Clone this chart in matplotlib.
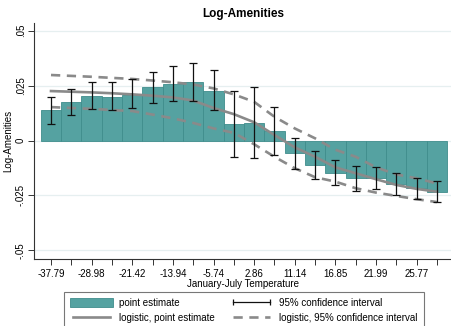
"""
Log-Amenities binned estimates vs January-July temperature,
with logistic fit and 95% confidence intervals.
"""

import matplotlib
matplotlib.use("Agg")
import matplotlib.pyplot as plt
from matplotlib.lines import Line2D
from matplotlib.patches import Patch
import numpy as np


# ---------------------------------------------------------------------------
# Data
# ---------------------------------------------------------------------------

tick_labels = ["-37.79", "-28.98", "-21.42", "-13.94", "-5.74",
               "2.86", "11.14", "16.85", "21.99", "25.77"]

point_est = [0.0137, 0.0176, 0.0203, 0.0200, 0.0207, 0.0242, 0.0258, 0.0266,
             0.0226, 0.0075, 0.0081, 0.0045, -0.0058, -0.0112, -0.0146,
             -0.0172, -0.0172, -0.0197, -0.0217, -0.0232]
ci_low = [0.0077, 0.0116, 0.0143, 0.0137, 0.0149, 0.0169, 0.0181, 0.0178,
          0.0137, -0.0074, -0.0080, -0.0066, -0.0130, -0.0177, -0.0202,
          -0.0228, -0.0222, -0.0248, -0.0267, -0.0280]
ci_high = [0.0200, 0.0236, 0.0266, 0.0264, 0.0278, 0.0313, 0.0339, 0.0354,
           0.0320, 0.0225, 0.0242, 0.0154, 0.0013, -0.0049, -0.0089,
           -0.0116, -0.0119, -0.0146, -0.0169, -0.0183]

logit_est = [0.0225, 0.0222, 0.0219, 0.0215, 0.0210, 0.0204, 0.0196, 0.0182,
             0.0148, 0.0120, 0.0083, 0.0025, -0.0031, -0.0074, -0.0122,
             -0.0149, -0.0176, -0.0202, -0.0220, -0.0233]
logit_high = [0.0298, 0.0294, 0.0290, 0.0285, 0.0280, 0.0273, 0.0265, 0.0255,
              0.0237, 0.0210, 0.0176, 0.0108, 0.0055, 0.0010, -0.0042,
              -0.0074, -0.0122, -0.0154, -0.0172, -0.0195]
logit_low = [0.0152, 0.0148, 0.0144, 0.0139, 0.0134, 0.0118, 0.0101, 0.0080,
             0.0055, 0.0035, -0.0017, -0.0074, -0.0126, -0.0167, -0.0187,
             -0.0217, -0.0237, -0.0252, -0.0267, -0.0280]

y_ticks = [-0.05, -0.025, 0, 0.025, 0.05]
y_tick_labels = ["-.05", "-.025", "0", ".025", ".05"]


# ---------------------------------------------------------------------------
# Plot
# ---------------------------------------------------------------------------

plt.rcParams["font.family"] = ["Liberation Sans", "DejaVu Sans"]

TEAL = "#55a2a1"
TEAL_EDGE = "#3f8d8c"
GRAY = "#8a8a8a"
DASH = (0, (3.5, 2.5))

fig = plt.figure(figsize=(4.52, 3.26), dpi=100)
ax = fig.add_axes([34 / 452, 67 / 326, 418 / 452, 236.3 / 326])

x = np.arange(1, len(point_est) + 1)
est = np.array(point_est)
lo = np.array(ci_low)
hi = np.array(ci_high)

ax.bar(x, est, width=1.0, color=TEAL, edgecolor=TEAL_EDGE, linewidth=0.6,
       zorder=2)
ax.plot(x, logit_est, color=GRAY, linewidth=1.9, zorder=3)
ax.plot(x, logit_high, color=GRAY, linewidth=1.9, linestyle=DASH, zorder=3)
ax.plot(x, logit_low, color=GRAY, linewidth=1.9, linestyle=DASH, zorder=3)
ax.errorbar(x, est, yerr=[est - lo, hi - est], fmt="none", ecolor="#111111",
            elinewidth=0.9, capsize=3, capthick=0.9, zorder=4)

ax.set_xlim(0.163, 20.74)
ax.set_ylim(-0.0539, 0.0536)

ax.set_xticks(x)
ax.set_xticklabels([tick_labels[i // 2] if i % 2 == 0 else ""
                    for i in range(len(x))], fontsize=7)
ax.set_yticks(y_ticks)
ax.set_yticklabels(y_tick_labels, fontsize=7, rotation=90, va="center")
ax.tick_params(axis="both", direction="out", length=4, width=0.7,
               color="#333333", pad=3)
ax.tick_params(axis="y", pad=2)

ax.grid(axis="y", color="#e6eff0", linewidth=0.9, zorder=0)
ax.set_axisbelow(True)
for side in ("top", "right"):
    ax.spines[side].set_visible(False)
for side in ("left", "bottom"):
    ax.spines[side].set_color("#333333")
    ax.spines[side].set_linewidth(0.8)

ax.set_xlabel("January-July Temperature", fontsize=7, labelpad=0)
ax.set_ylabel("Log-Amenities", fontsize=7, labelpad=2)
ax.set_title("Log-Amenities", fontsize=8.5, fontweight="bold", pad=4)

handles = [
    Patch(facecolor=TEAL, edgecolor=TEAL_EDGE, linewidth=0.6),
    Line2D([], [], color=GRAY, linewidth=1.9),
    Line2D([], [], color="#111111", linewidth=0.9, marker="|",
           markersize=5, markeredgewidth=0.9),
    Line2D([], [], color=GRAY, linewidth=1.9, linestyle=DASH),
]
labels = ["point estimate", "logistic, point estimate",
          "95% confidence interval", "logistic, 95% confidence interval"]
leg = fig.legend(handles, labels, ncol=2, loc="upper left",
                 bbox_to_anchor=(64 / 452, 1 - 291.7 / 326), fontsize=7,
                 numpoints=2, handlelength=4.4, handleheight=1.0,
                 handletextpad=0.7, columnspacing=1.5, labelspacing=0.55,
                 borderpad=0.6, borderaxespad=0, frameon=True, fancybox=False)
leg.get_frame().set_edgecolor("#555555")
leg.get_frame().set_linewidth(0.8)

fig.savefig("out.png", dpi=100)
